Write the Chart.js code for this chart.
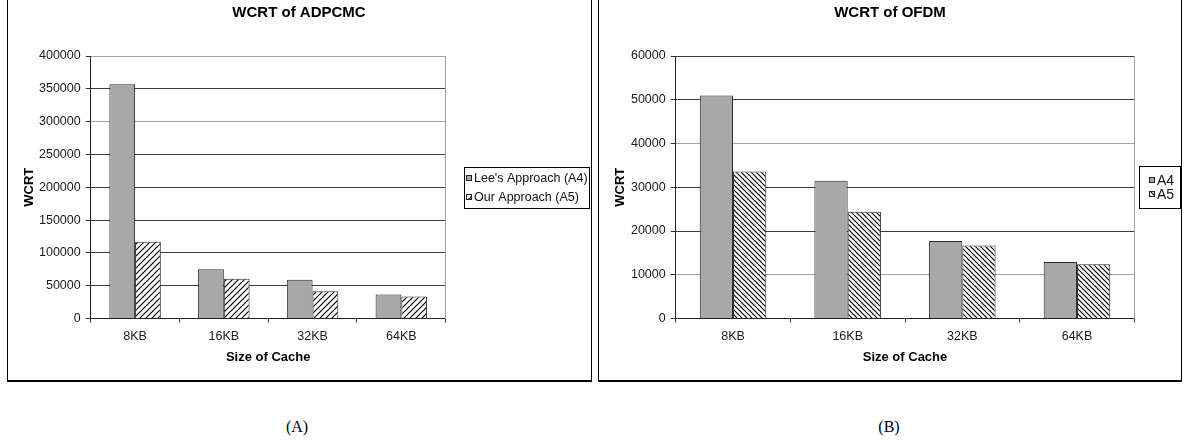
<!DOCTYPE html>
<html>
<head>
<meta charset="utf-8">
<script src="https://cdn.jsdelivr.net/npm/chart.js@4.4.1/dist/chart.umd.min.js"></script>
<style>
  body { margin: 0; background: #fff; width: 1185px; height: 446px; overflow: hidden; position: relative; }
  .panel { position: absolute; top: -10px; height: 392px; box-sizing: border-box; border: 1px solid #000; border-bottom-width: 2px; }
  canvas { position: absolute; top: 0; }
  .cap { position: absolute; top: 418px; width: 60px; margin-left: -30px; text-align: center;
         font: 16px "Liberation Serif", "Times New Roman", serif; color: #000; }
</style>
</head>
<body>
<div class="panel" style="left:7px;width:585px"></div>
<div class="panel" style="left:598px;width:584px"></div>
<canvas id="adpcmc" width="582" height="378" style="left:8px"></canvas>
<canvas id="ofdm" width="582" height="378" style="left:599px"></canvas>
<div class="cap" style="left:297px">(A)</div>
<div class="cap" style="left:889px">(B)</div>
<script>
  const FONT = '"Liberation Sans", Arial, sans-serif';

  // cache sizes on the x axis
  const cacheSizes = ['8KB', '16KB', '32KB', '64KB'];

  // ADPCMC worst case response time
  const adpcmcLee = [357000, 75200, 58900, 36500];
  const adpcmcOurs = [116800, 60400, 41700, 33500];

  // OFDM worst case response time
  const ofdmA4 = [51000, 31500, 17700, 12900];
  const ofdmA5 = [33600, 24400, 16700, 12400];

  // white fill with diagonal black stripes
  function hatch(dir, size, lw) {
    const c = document.createElement('canvas');
    c.width = c.height = size;
    const g = c.getContext('2d');
    g.fillStyle = '#fff';
    g.fillRect(0, 0, size, size);
    g.strokeStyle = '#000';
    g.lineWidth = lw;
    g.beginPath();
    if (dir === '/') {
      g.moveTo(-1, size + 1); g.lineTo(size + 1, -1);
      g.moveTo(-1, 1); g.lineTo(1, -1);
      g.moveTo(size - 1, size + 1); g.lineTo(size + 1, size - 1);
    } else {
      g.moveTo(-1, -1); g.lineTo(size + 1, size + 1);
      g.moveTo(size - 1, -1); g.lineTo(size + 1, 1);
      g.moveTo(-1, size - 1); g.lineTo(1, size + 1);
    }
    g.stroke();
    return g.createPattern(c, 'repeat');
  }

  // legend in a bordered box on the right, centred on the plot
  const boxLegend = {
    id: 'boxLegend',
    afterDraw(chart, args, o) {
      const ctx = chart.ctx;
      const sets = chart.data.datasets;
      ctx.save();
      ctx.font = o.size + 'px ' + FONT;
      let textW = 0;
      sets.forEach(ds => { textW = Math.max(textW, ctx.measureText(ds.label).width); });
      const w = Math.round(o.padLeft + o.swatch + o.gap + textW + o.padRight);
      const h = o.rowHeight * sets.length + o.padY * 2;
      const x = chart.width - 1 - w;
      const y = Math.round((chart.chartArea.top + chart.chartArea.bottom) / 2 - h / 2);
      ctx.fillStyle = '#fff';
      ctx.fillRect(x, y, w, h);
      ctx.strokeStyle = '#000';
      ctx.lineWidth = 1;
      ctx.strokeRect(x + 0.5, y + 0.5, w, h);
      sets.forEach((ds, i) => {
        const rowY = y + o.padY + o.rowHeight * (i + 0.5);
        const sx = x + o.padLeft;
        const sy = Math.round(rowY - o.swatch / 2);
        ctx.fillStyle = ds.backgroundColor;
        ctx.fillRect(sx, sy, o.swatch, o.swatch);
        ctx.strokeStyle = '#222';
        ctx.strokeRect(sx + 0.5, sy + 0.5, o.swatch - 1, o.swatch - 1);
        ctx.fillStyle = '#111';
        ctx.textBaseline = 'middle';
        ctx.textAlign = 'left';
        ctx.fillText(ds.label, sx + o.swatch + o.gap, rowY + 1);
      });
      ctx.restore();
    }
  };

  function makeChart(id, cfg) {
    const grey = '#a8a8a8';
    return new Chart(document.getElementById(id), {
      type: 'bar',
      data: {
        labels: cacheSizes,
        datasets: [
          { label: cfg.labels[0], data: cfg.series[0], backgroundColor: grey,
            borderColor: '#2a2a2a', borderWidth: 1 },
          { label: cfg.labels[1], data: cfg.series[1], backgroundColor: cfg.pattern,
            borderColor: '#2a2a2a', borderWidth: 1 }
        ]
      },
      options: {
        responsive: false,
        animation: false,
        layout: { padding: 0 },
        datasets: { bar: { categoryPercentage: 0.58, barPercentage: 1 } },
        plugins: {
          legend: { display: false },
          tooltip: { enabled: false },
          title: {
            display: true,
            text: cfg.title,
            color: '#000',
            font: { family: FONT, size: 15, weight: 'bold' },
            padding: { top: 4, bottom: 34 }
          },
          boxLegend: cfg.legend
        },
        scales: {
          x: {
            afterFit: s => { s.height = 59.5; },
            grid: { offset: true, drawOnChartArea: false, tickLength: 4, color: '#333' },
            border: { color: '#222', width: 1 },
            ticks: { color: '#1a1a1a', padding: 6.5, font: { family: FONT, size: 12.5 } },
            title: {
              display: true, text: 'Size of Cache', color: '#000',
              font: { family: FONT, size: 13, weight: 'bold' },
              padding: { top: 0, bottom: 13 }
            }
          },
          y: {
            min: 0,
            max: cfg.max,
            afterFit: s => { s.width = cfg.yWidth; },
            grid: {
              tickLength: 5,
              tickColor: '#333',
              color: c => (c.tick && cfg.lightLines.includes(c.tick.value)) ? '#a4a4a4' : '#3c3c3c'
            },
            border: { color: '#222', width: 1 },
            ticks: {
              stepSize: cfg.step,
              padding: 5,
              color: '#1a1a1a',
              font: { family: FONT, size: 12.5 },
              callback: v => String(v)
            },
            title: {
              display: true, text: 'WCRT', color: '#000',
              font: { family: FONT, size: 13, weight: 'bold' },
              padding: { top: 14, bottom: 0 }
            }
          },
          // empty axis holding the legend space; its border is the plot's right edge
          frame: {
            type: 'linear',
            position: 'right',
            afterFit: s => { s.width = cfg.rightWidth; },
            grid: { display: false },
            ticks: { display: false },
            border: { color: '#a0a0a0', width: 1 }
          }
        }
      },
      plugins: [boxLegend]
    });
  }

  makeChart('adpcmc', {
    title: 'WCRT of ADPCMC',
    labels: ["Lee's Approach (A4)", 'Our Approach (A5)'],
    series: [adpcmcLee, adpcmcOurs],
    pattern: hatch('/', 6, 1.2),
    max: 400000,
    step: 50000,
    yWidth: 82.7,
    rightWidth: 144.3,
    lightLines: [300000, 400000],
    legend: { size: 12.5, swatch: 6, gap: 2, padLeft: 2, padRight: 1, rowHeight: 19, padY: 1.5 }
  });

  makeChart('ofdm', {
    title: 'WCRT of OFDM',
    labels: ['A4', 'A5'],
    series: [ofdmA4, ofdmA5],
    pattern: hatch('\\', 5, 1.2),
    max: 60000,
    step: 10000,
    yWidth: 76.7,
    rightWidth: 46.7,
    lightLines: [10000, 40000],
    legend: { size: 14, swatch: 6, gap: 2, padLeft: 10, padRight: 6, rowHeight: 14, padY: 7 }
  });
</script>
</body>
</html>
